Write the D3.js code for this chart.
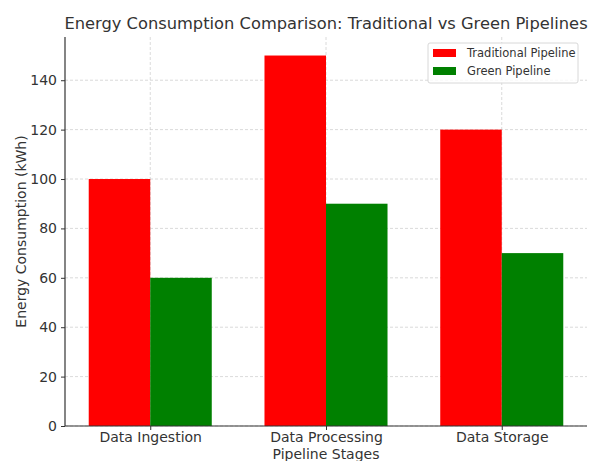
<!DOCTYPE html>
<html>
<head>
<meta charset="utf-8">
<script src="https://cdn.jsdelivr.net/npm/d3@7"></script>
<style>
  body { margin: 0; background: #fff; }
  text { font-family: "DejaVu Sans", sans-serif; fill: #333; }
</style>
</head>
<body>
<div id="viz"></div>
<script>
var stages = ["Data Ingestion", "Data Processing", "Data Storage"];
var traditional = [100, 150, 120];
var green = [60, 90, 70];
var seriesNames = ["Traditional Pipeline", "Green Pipeline"];
var seriesColors = ["#ff0000", "#008000"];
var yTicks = [0, 20, 40, 60, 80, 100, 120, 140];

var W = 589, H = 461;
var margin = { top: 37, right: 2, bottom: 35, left: 65 },
  width = W - margin.left - margin.right,
  height = H - margin.top - margin.bottom;

var svg = d3.select("#viz").append("svg")
  .attr("width", W).attr("height", H);
var g = svg.append("g")
  .attr("transform", "translate(" + margin.left + "," + margin.top + ")");

// matplotlib-like numeric x: groups at 0,1,2, bar width 0.35
var bw = 0.35;
var x = d3.scaleLinear().domain([-0.485, 2.485]).range([0, width]);
var y = d3.scaleLinear().domain([0, 157.5]).range([height, 0]);

// grid
g.selectAll(".hgrid").data(yTicks).enter().append("line")
  .attr("x1", 0).attr("x2", width)
  .attr("y1", d => y(d)).attr("y2", d => y(d))
  .attr("stroke", "#d0d0d0").attr("stroke-width", 0.8)
  .attr("stroke-dasharray", "3,2");
g.selectAll(".vgrid").data(stages).enter().append("line")
  .attr("x1", (d, i) => x(i)).attr("x2", (d, i) => x(i))
  .attr("y1", 0).attr("y2", height)
  .attr("stroke", "#d0d0d0").attr("stroke-width", 0.8)
  .attr("stroke-dasharray", "3,2");

// bars
var rows = stages.map((s, i) => ({ i: i, vals: [traditional[i], green[i]] }));
rows.forEach(function (r) {
  r.vals.forEach(function (v, k) {
    var x0 = r.i + (k === 0 ? -bw : 0);
    g.append("rect")
      .attr("x", x(x0))
      .attr("width", x(x0 + bw) - x(x0))
      .attr("y", y(v))
      .attr("height", height - y(v))
      .attr("fill", seriesColors[k]);
  });
});

// axes
var yAxis = d3.axisLeft(y).tickValues(yTicks).tickSize(4).tickPadding(4);
var yg = g.append("g").call(yAxis);
var xAxis = d3.axisBottom(x).tickValues([0, 1, 2])
  .tickFormat(d => stages[d]).tickSize(4).tickPadding(2);
var xg = g.append("g").attr("transform", "translate(0," + height + ")").call(xAxis);
[yg, xg].forEach(function (a) {
  a.select(".domain").attr("stroke", "#333").attr("stroke-width", 1.2);
  a.selectAll(".tick line").attr("stroke", "#333");
  a.selectAll(".tick text").style("font-size", "14px").attr("fill", "#333");
});
xg.select(".domain").attr("d", "M0,0H" + width);
yg.select(".domain").attr("d", "M0," + height + "V0");

// labels
svg.append("text")
  .attr("x", margin.left + width / 2).attr("y", 29)
  .attr("text-anchor", "middle").style("font-size", "16.3px")
  .text("Energy Consumption Comparison: Traditional vs Green Pipelines");
svg.append("text")
  .attr("x", margin.left + width / 2).attr("y", 459)
  .attr("text-anchor", "middle").style("font-size", "14px")
  .text("Pipeline Stages");
svg.append("text")
  .attr("transform", "translate(26," + (margin.top + height / 2) + ") rotate(-90)")
  .attr("text-anchor", "middle").style("font-size", "14px")
  .text("Energy Consumption (kWh)");

// legend
var lg = svg.append("g").attr("transform", "translate(428,43)");
lg.append("rect").attr("width", 150).attr("height", 40).attr("rx", 2)
  .attr("fill", "#fff").attr("fill-opacity", 0.8)
  .attr("stroke", "#d8d8d8");
seriesNames.forEach(function (n, k) {
  lg.append("rect").attr("x", 5).attr("y", 6 + k * 18)
    .attr("width", 23).attr("height", 8).attr("fill", seriesColors[k]);
  lg.append("text").attr("x", 39).attr("y", 14 + k * 18)
    .style("font-size", "11.5px").text(n);
});
</script>
</body>
</html>
